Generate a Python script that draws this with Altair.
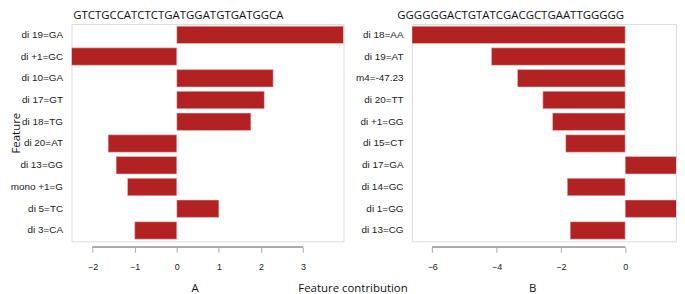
import altair as alt
import pandas as pd

left_title = "GTCTGCCATCTCTGATGGATGTGATGGCA"
left_features = ["di 19=GA", "di +1=GC", "di 10=GA", "di 17=GT", "di 18=TG",
                 "di 20=AT", "di 13=GG", "mono +1=G", "di 5=TC", "di 3=CA"]
left_values = [3.96, -2.50, 2.29, 2.08, 1.76, -1.63, -1.44, -1.17, 1.00, -1.00]
left_ticks = [-2, -1, 0, 1, 2, 3]

right_title = "GGGGGGACTGTATCGACGCTGAATTGGGGG"
right_features = ["di 18=AA", "di 19=AT", "m4=-47.23", "di 20=TT", "di +1=GG",
                  "di 15=CT", "di 17=GA", "di 14=GC", "di 1=GG", "di 13=CG"]
right_values = [-6.63, -4.16, -3.35, -2.56, -2.26, -1.85, 1.81, -1.80, 1.76, -1.71]
right_ticks = [-6, -4, -2, 0]

BAR = "#B22222"
H = 219
AX_OFF = 6
TFONT = "Open Sans"
LFONT = "Liberation Sans"


def panel(title, feats, vals, ticks, domain, width, ytitle, xtitle, title_x, title_dx):
    df = pd.DataFrame({"feature": feats, "value": vals})
    if ytitle:
        yaxis = alt.Axis(
            title=ytitle, ticks=False, domain=False, labelPadding=9,
            minExtent=50, maxExtent=50, labelFont=LFONT, labelFontSize=10,
            labelColor="#222", titleFont=TFONT, titleFontSize=11.5,
            titleFontWeight="normal", titleColor="#111", titlePadding=0,
        )
    else:
        yaxis = alt.Axis(
            title=None, ticks=False, domain=False, labelPadding=9,
            minExtent=50, maxExtent=50, labelFont=LFONT, labelFontSize=10,
            labelColor="#222")
    xaxis = alt.Axis(
        values=ticks, domain=False, grid=False, offset=AX_OFF, tickSize=5,
        tickColor="#aaa", labelFont=LFONT, labelFontSize=9, labelColor="#222",
        labelPadding=10, title=xtitle, titleX=title_x, titleY=45,
        titleAlign="center", titleBaseline="alphabetic", titleFont=TFONT,
        titleFontSize=11.5, titleFontWeight="normal", titleColor="#111",
        format="d",
    )
    bars = alt.Chart(df).mark_bar(
        color=BAR, clip=True, stroke="#f2d0d0", strokeWidth=0.5
    ).encode(
        y=alt.Y("feature:N", sort=feats,
                scale=alt.Scale(paddingInner=0.2, paddingOuter=0.1), axis=yaxis),
        x=alt.X("value:Q", scale=alt.Scale(domain=domain, nice=False, zero=False),
                axis=xaxis),
        x2=alt.datum(0),
    )
    rule = alt.Chart(df).mark_rule(color="#aaa", strokeWidth=1).encode(
        x=alt.datum(ticks[0]), x2=alt.datum(ticks[-1]), y=alt.value(H + AX_OFF)
    )
    return alt.layer(bars, rule).properties(
        width=width, height=H,
        title=alt.TitleParams(
            title, font=TFONT, fontSize=11.5, fontWeight="normal", color="#111",
            anchor="middle", frame="bounds", offset=2, dx=title_dx),
    )


left = panel(left_title, left_features, left_values, left_ticks,
             [-2.5, 3.96], 274, "Feature", "A", 124, 1.5)
right = panel(right_title, right_features, right_values, right_ticks,
              [-6.63, 1.58], 266, None, "B", 121, -5)

chart = alt.hconcat(left, right, spacing=10).properties(
    padding={"top": 1, "left": 1, "right": 0, "bottom": 0},
    title=alt.TitleParams(
        "Feature contribution", orient="bottom", anchor="middle", frame="bounds",
        font=TFONT, fontSize=11.5, fontWeight="normal", color="#111",
        offset=-12, dx=10),
).configure_view(stroke=None).configure(background="white")

chart.save("out.html", embed_options={"renderer": "svg", "actions": False})
